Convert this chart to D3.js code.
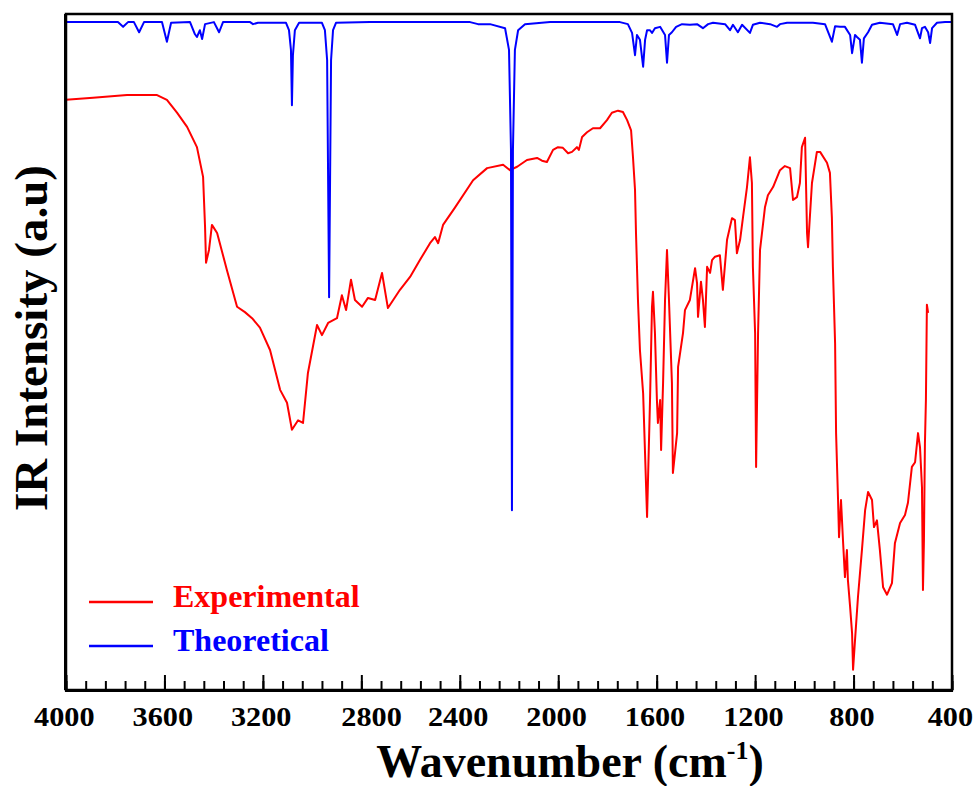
<!DOCTYPE html>
<html>
<head>
<meta charset="utf-8">
<script src="https://cdn.jsdelivr.net/npm/d3@7"></script>
<style>
  body { margin: 0; background: #fff; }
  text { font-family: "Times New Roman", "Liberation Serif", serif; font-weight: bold; }
</style>
</head>
<body>
<svg id="svg"></svg>
<script>
////////////////////////////////////////////////////////////////////////
// Data (wavenumber in cm-1, intensity in a.u.)

let expWn = [4000, 3890, 3752, 3630, 3590, 3549, 3508, 3468, 3443, 3435, 3431, 3419, 3407,
  3386, 3346, 3305, 3273, 3244, 3212, 3171, 3130, 3102, 3082, 3057, 3037, 3017,
  2980, 2960, 2935, 2899, 2879, 2862, 2842, 2826, 2797, 2773, 2744, 2716, 2692,
  2643, 2602, 2562, 2521, 2501, 2488, 2468, 2419, 2346, 2289, 2224, 2196, 2167,
  2127, 2086, 2066, 2046, 2021, 2001, 1981, 1960, 1944, 1924, 1916, 1903, 1883,
  1859, 1830, 1802, 1782, 1757, 1737, 1720, 1704, 1696, 1688, 1684, 1676, 1668,
  1655, 1639, 1627, 1619, 1615, 1607, 1599, 1595, 1586, 1582, 1574, 1566, 1558,
  1550, 1538, 1534, 1517, 1513, 1493, 1485, 1465, 1444, 1436, 1432, 1420, 1412,
  1404, 1395, 1383, 1375, 1363, 1343, 1331, 1314, 1294, 1282, 1274, 1261, 1249,
  1233, 1221, 1213, 1209, 1200, 1196, 1188, 1180, 1160, 1148, 1127, 1099, 1079,
  1058, 1046, 1030, 1018, 1010, 997, 989, 985, 969, 949, 936, 908, 896, 888, 884,
  875, 871, 867, 863, 859, 851, 843, 835, 827, 823, 814, 806, 802, 794, 782, 766,
  753, 741, 725, 717, 705, 693, 680, 664, 644, 632, 611, 591, 579, 563, 550, 538,
  530, 522, 518, 514, 510, 506, 502, 497];

let expI = [87.3, 87.6, 88.0, 88.0, 87.3, 85.4, 83.3, 80.3, 75.9, 68.5, 63.2, 65.1, 68.8,
  67.6, 62.1, 56.7, 55.9, 55.0, 53.6, 50.3, 44.4, 42.5, 38.5, 39.9, 39.5, 46.9,
  54.0, 52.5, 54.3, 55.0, 58.4, 56.2, 60.7, 57.7, 56.7, 58.0, 57.7, 61.7, 56.5,
  59.2, 61.1, 63.6, 66.1, 67.0, 66.1, 68.8, 71.4, 75.4, 77.2, 77.7, 76.9, 77.4,
  78.4, 78.7, 78.3, 78.1, 79.9, 80.3, 80.2, 79.4, 79.6, 80.3, 79.9, 81.8, 82.5,
  83.1, 83.1, 84.3, 85.4, 85.7, 85.5, 84.3, 82.8, 78.7, 74.0, 67.6, 57.7, 50.3,
  43.9, 25.6, 42.9, 56.7, 58.9, 52.8, 42.9, 39.5, 42.9, 35.5, 45.4, 57.7, 65.1,
  57.7, 45.4, 32.1, 38.0, 47.8, 52.8, 56.2, 57.7, 62.4, 60.2, 55.2, 60.4, 57.7,
  53.7, 62.6, 61.7, 63.6, 64.1, 64.3, 59.2, 66.6, 69.8, 69.5, 64.6, 66.6, 70.0,
  74.4, 78.8, 75.0, 62.6, 52.8, 33.0, 52.8, 65.1, 71.4, 73.2, 74.4, 76.9, 77.5,
  77.2, 72.5, 72.9, 75.0, 80.3, 81.7, 67.6, 65.5, 75.0, 79.6, 79.6, 78.0, 76.5,
  69.8, 62.6, 51.3, 38.0, 33.0, 28.1, 22.6, 28.1, 22.2, 16.7, 20.7, 16.3, 12.3,
  8.4, 3.0, 7.4, 13.8, 20.7, 26.6, 29.3, 28.1, 24.1, 25.1, 20.7, 15.2, 14.1, 15.8,
  21.7, 24.7, 25.9, 27.7, 33.0, 33.7, 38.0, 35.9, 30.0, 14.8, 22.2, 36.5, 42.9,
  57.0, 55.8];

let theoWn = [4000, 3789, 3768, 3748, 3724, 3703, 3683, 3610, 3590, 3573, 3496, 3476,
  3468, 3456, 3447, 3435, 3399, 3378, 3362, 3252, 3240, 3220, 3106, 3094, 3086,
  3082, 3078, 3070, 3053, 2960, 2948, 2939, 2931, 2923, 2915, 2903, 2765, 2358,
  2326, 2277, 2216, 2200, 2192, 2188, 2184, 2176, 2163, 2135, 2033, 1749, 1717,
  1700, 1688, 1680, 1668, 1655, 1647, 1639, 1627, 1619, 1607, 1586, 1566, 1558,
  1550, 1538, 1521, 1497, 1465, 1436, 1412, 1391, 1371, 1322, 1302, 1290, 1270,
  1253, 1221, 1209, 1180, 1139, 1111, 1099, 1070, 1018, 965, 916, 888, 875, 855,
  835, 814, 806, 794, 786, 774, 766, 758, 741, 725, 693, 640, 623, 611, 583, 550,
  530, 522, 510, 497, 489, 481, 461, 428, 400];

let theoI = [98.8, 98.8, 98.1, 98.8, 98.8, 97.3, 98.8, 98.8, 95.9, 98.7, 98.8, 97.0,
  96.6, 97.6, 96.3, 98.5, 98.8, 97.3, 98.8, 98.8, 98.5, 98.7, 98.7, 97.6, 94.7,
  86.5, 93.9, 97.6, 98.7, 98.7, 97.6, 93.2, 58.1, 93.2, 97.6, 98.7, 98.8, 98.8,
  98.5, 98.5, 97.9, 94.7, 79.9, 26.6, 79.9, 94.7, 97.6, 98.5, 98.8, 98.8, 98.5,
  97.2, 93.9, 96.9, 96.2, 92.2, 96.2, 97.6, 97.6, 97.2, 97.9, 98.1, 96.9, 92.8,
  96.9, 97.3, 98.1, 98.5, 98.4, 98.5, 97.9, 98.5, 98.7, 98.5, 97.6, 98.4, 97.3,
  98.4, 97.2, 98.4, 98.7, 98.5, 98.1, 98.5, 98.7, 98.7, 98.7, 98.5, 95.9, 98.2,
  98.1, 98.1, 96.9, 94.2, 96.9, 96.6, 96.2, 92.8, 96.4, 97.3, 98.4, 98.7, 98.5,
  96.9, 98.5, 98.7, 98.4, 96.4, 97.9, 98.1, 97.3, 95.7, 97.9, 98.7, 98.8, 98.8];

let majorTicks = [4000, 3600, 3200, 2800, 2400, 2000, 1600, 1200, 800, 400];
let seriesNames = ["Experimental", "Theoretical"];
let seriesColors = ["#ff0000", "#0000ff"];


////////////////////////////////////////////////////////////////////////
// Layout and scales

let winWidth = 976;
let winHeight = 786;
let plot = { x1: 66, x2: 952, y1: 14, y2: 690 };
let serif = "'Times New Roman', 'Liberation Serif', serif";

let svg = d3.select("#svg")
            .attr("width", winWidth)
            .attr("height", winHeight);

let xScale = d3.scaleLinear().domain([4000, 400]).range([plot.x1, plot.x2]);
let yScale = d3.scaleLinear().domain([0, 100]).range([plot.y2, plot.y1]);

svg.append("defs").append("clipPath").attr("id", "clip")
   .append("rect")
   .attr("x", plot.x1).attr("y", plot.y1)
   .attr("width", plot.x2 - plot.x1).attr("height", plot.y2 - plot.y1);

function toPoints(wn, vals) {
  let pts = [];
  for (let i=0; i<wn.length; ++i) { pts.push([wn[i], vals[i]]); }
  return pts;
}

let line = d3.line()
             .x(function(d) { return xScale(d[0]); })
             .y(function(d) { return yScale(d[1]); });

let series = [toPoints(expWn, expI), toPoints(theoWn, theoI)];

svg.append("g").attr("clip-path", "url(#clip)")
   .selectAll("path")
   .data(series)
   .enter()
   .append("path")
   .attr("d", line)
   .attr("fill", "none")
   .attr("stroke", function(d, i) { return seriesColors[i]; })
   .attr("stroke-width", 2)
   .attr("stroke-linejoin", "round");


////////////////////////////////////////////////////////////////////////
// Axis: minor ticks every 80, major every 400, pointing inward

let minorTicks = d3.range(4000, 399, -80);

let minorAxis = d3.axisBottom(xScale)
                  .tickValues(minorTicks)
                  .tickSizeInner(-9)
                  .tickSizeOuter(0)
                  .tickFormat("");
let gMinor = svg.append("g")
                .attr("transform", "translate(0," + plot.y2 + ")")
                .call(minorAxis);
gMinor.select(".domain").remove();

let majorAxis = d3.axisBottom(xScale)
                  .tickValues(majorTicks)
                  .tickSizeInner(-15)
                  .tickSizeOuter(0)
                  .tickPadding(16)
                  .tickFormat(d3.format("d"));
let gMajor = svg.append("g")
                .attr("transform", "translate(0," + plot.y2 + ")")
                .attr("font-family", serif)
                .attr("font-size", 28)
                .call(majorAxis);
gMajor.select(".domain").remove();
gMajor.selectAll("text")
      .attr("font-family", serif)
      .attr("font-size", 28)
      .attr("dx", function(d) { return d === 2800 ? 9 : -2; })
      .attr("transform", "scale(1.08,1)");
svg.selectAll(".tick line").attr("stroke", "black").attr("stroke-width", 2);

// frame
svg.append("rect")
   .attr("x", plot.x1).attr("y", plot.y1)
   .attr("width", plot.x2 - plot.x1).attr("height", plot.y2 - plot.y1)
   .attr("fill", "none")
   .attr("stroke", "black")
   .attr("stroke-width", 2.5);
svg.append("line")
   .attr("x1", plot.x1 - 1).attr("x2", plot.x2 + 1)
   .attr("y1", plot.y2 + 0.5).attr("y2", plot.y2 + 0.5)
   .attr("stroke", "black").attr("stroke-width", 3);
svg.append("line")
   .attr("x1", plot.x1 - 0.5).attr("x2", plot.x1 - 0.5)
   .attr("y1", plot.y1).attr("y2", plot.y2)
   .attr("stroke", "black").attr("stroke-width", 3);


////////////////////////////////////////////////////////////////////////
// Axis titles

let xTitle = svg.append("text")
                .attr("x", 570).attr("y", 777)
                .attr("text-anchor", "middle")
                .attr("font-size", 46);
xTitle.append("tspan").text("Wavenumber (cm");
xTitle.append("tspan").attr("font-size", 26).attr("dy", -18).text("-1");
xTitle.append("tspan").attr("dy", 18).text(")");

svg.append("text")
   .attr("transform", "translate(47,338) rotate(-90)")
   .attr("text-anchor", "middle")
   .attr("font-size", 47)
   .text("IR Intensity (a.u)");


////////////////////////////////////////////////////////////////////////
// Legend

let legend = svg.selectAll(".legend")
                .data(seriesNames)
                .enter()
                .append("g")
                .attr("class", "legend")
                .attr("transform", function(d, i) { return "translate(0," + (i * 44) + ")"; });

legend.append("line")
      .attr("x1", 89).attr("x2", 153)
      .attr("y1", 602).attr("y2", 602)
      .attr("stroke", function(d, i) { return seriesColors[i]; })
      .attr("stroke-width", 2.5);

legend.append("text")
      .attr("x", 173).attr("y", 607)
      .attr("font-size", 32)
      .attr("fill", function(d, i) { return seriesColors[i]; })
      .text(function(d) { return d; });
</script>
</body>
</html>
